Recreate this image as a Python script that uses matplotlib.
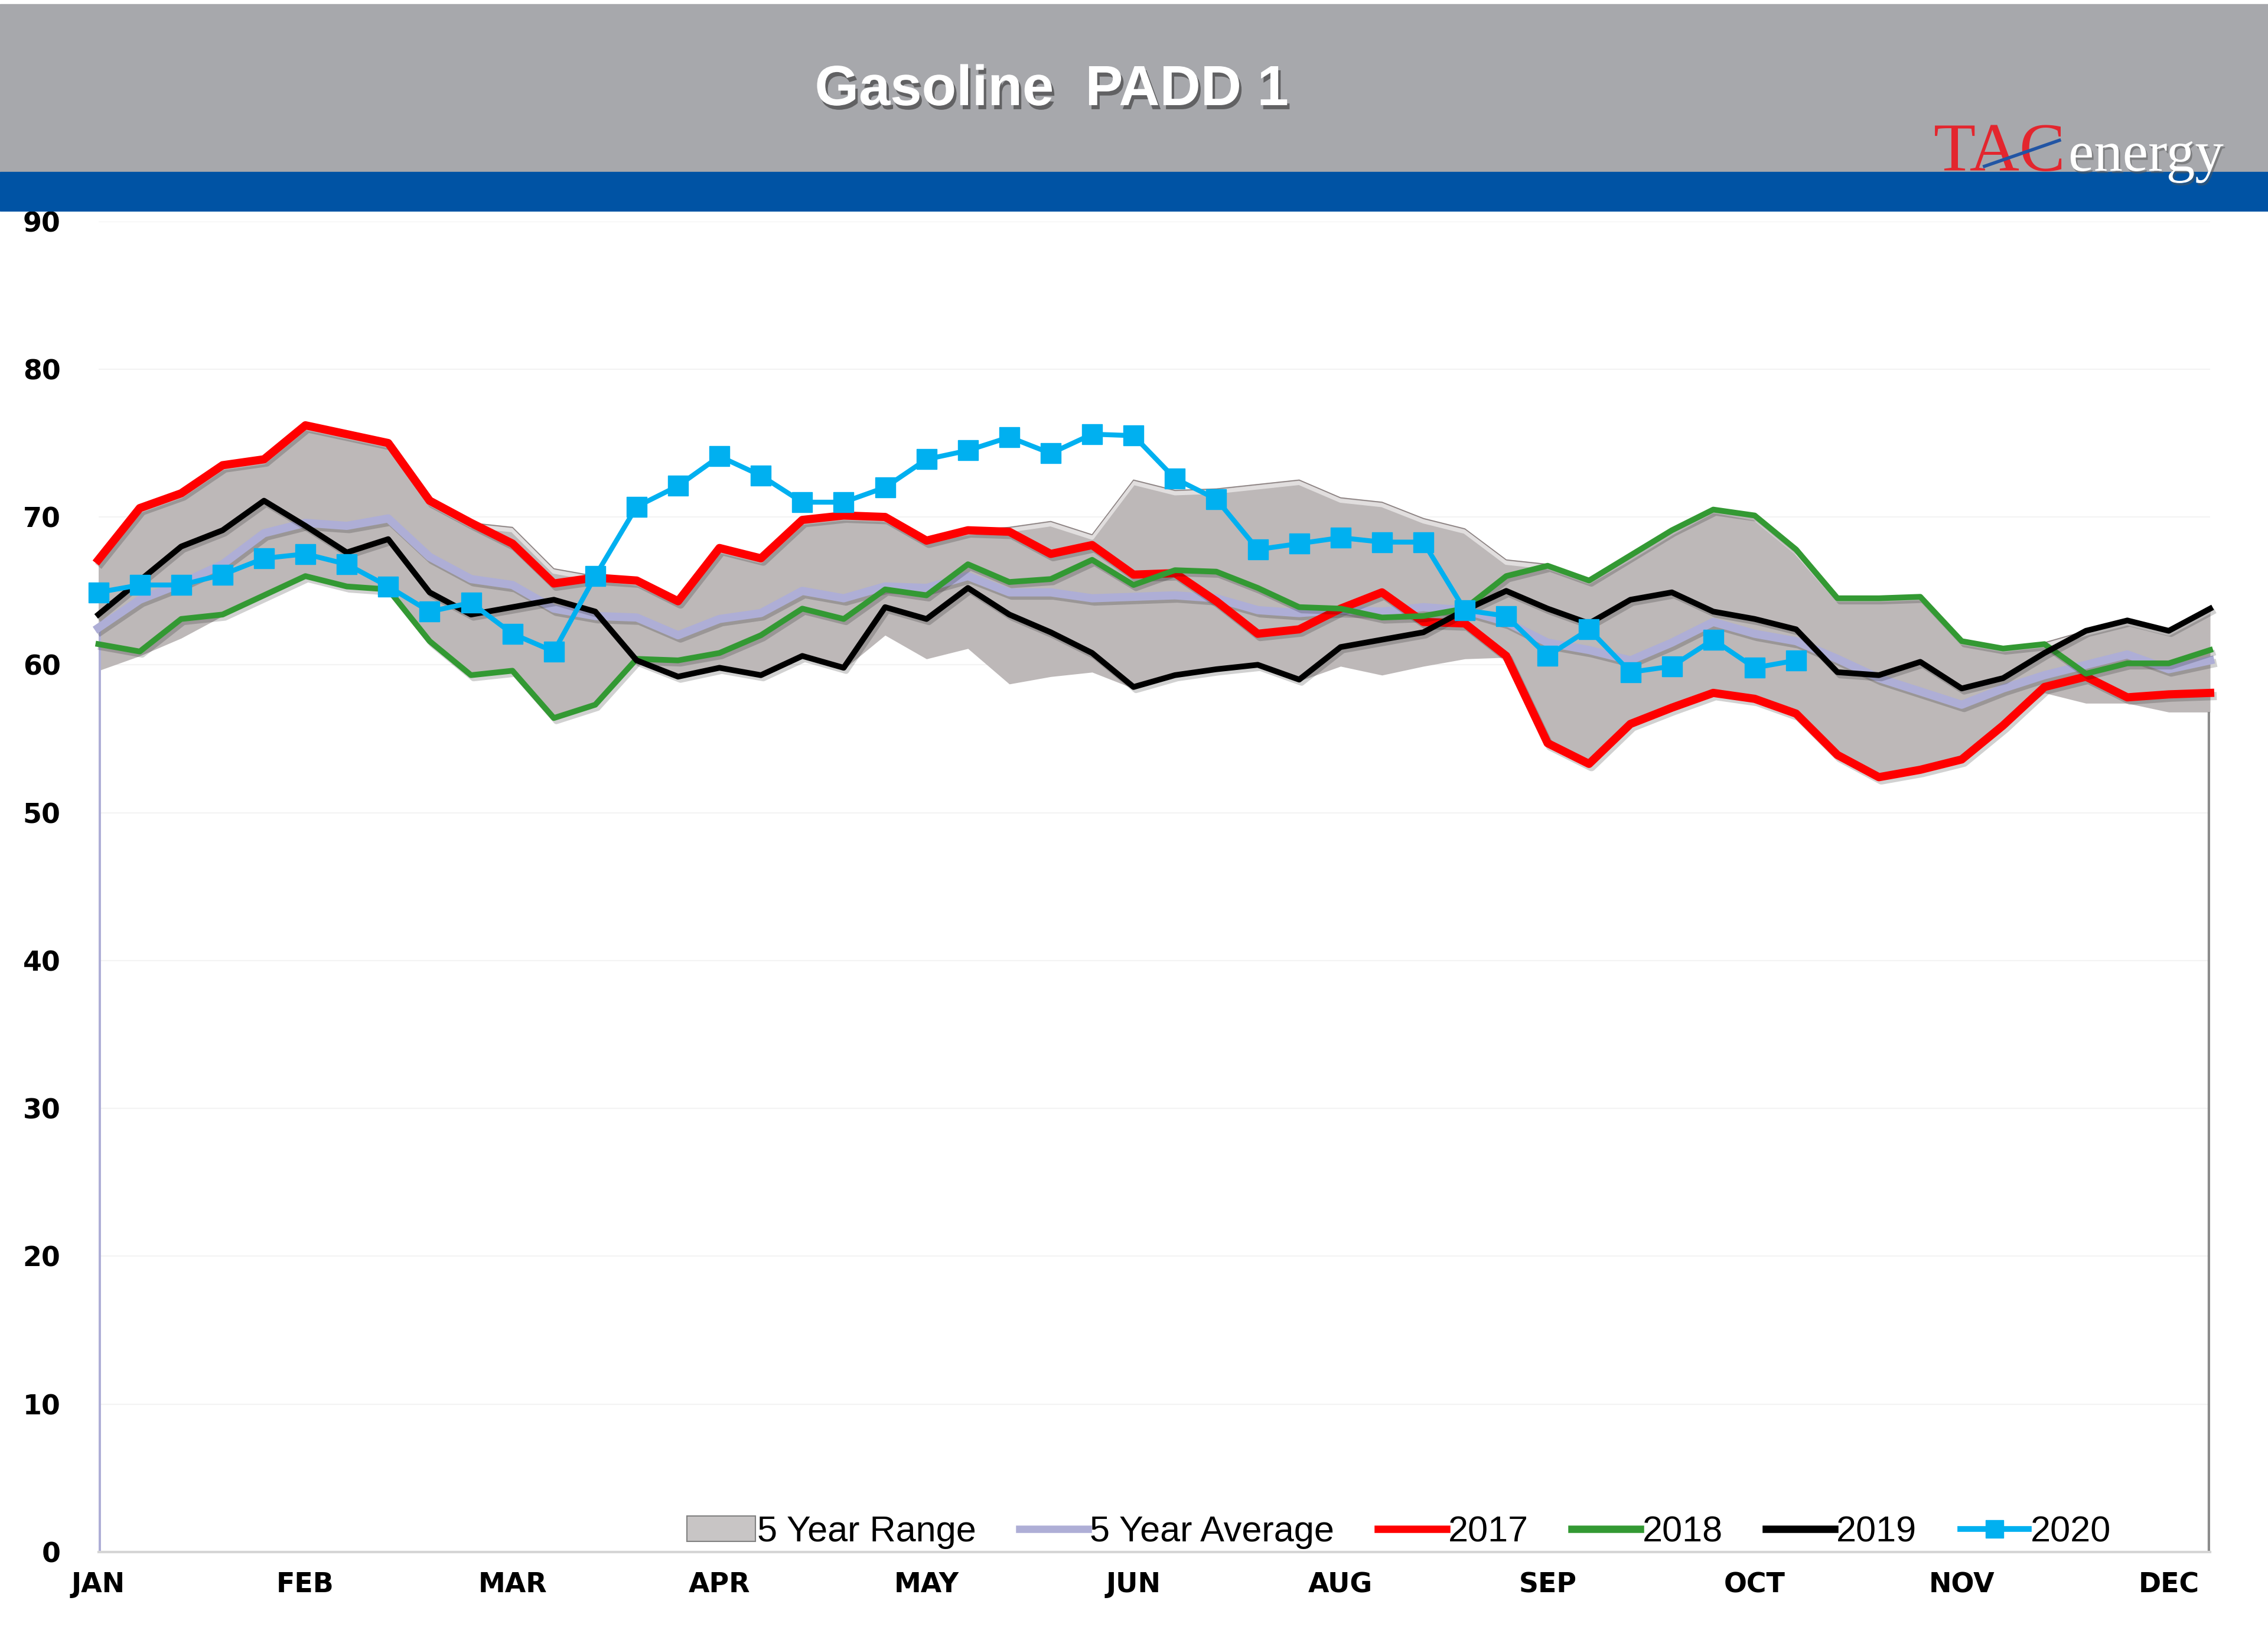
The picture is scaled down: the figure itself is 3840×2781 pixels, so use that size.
import numpy as np
import matplotlib
matplotlib.use('Agg')
import matplotlib.pyplot as plt
import matplotlib.patheffects as pe
from matplotlib.patches import Rectangle, Patch
from matplotlib.lines import Line2D
from matplotlib import transforms

# month labels shown every 5th week
months = ['JAN', 'FEB', 'MAR', 'APR', 'MAY', 'JUN', 'AUG', 'SEP', 'OCT', 'NOV', 'DEC']
month_ticks = [0, 5, 10, 15, 20, 25, 30, 35, 40, 45, 50]

range_hi = [67.1, 70.6, 71.6, 73.5, 73.9, 76.2, 75.6, 75.0, 71.1, 69.6,
            69.3, 66.5, 66.0, 65.7, 64.4, 67.9, 67.2, 69.8, 70.1, 70.0,
            68.6, 69.1, 69.3, 69.7, 68.8, 72.5, 71.8, 71.9, 72.2, 72.5,
            71.3, 71.0, 69.9, 69.2, 67.1, 66.8, 65.8, 67.4, 69.1, 70.6,
            70.1, 67.8, 64.6, 64.6, 64.7, 61.7, 61.2, 61.5, 62.3, 63.0,
            62.3, 63.8]
range_lo = [59.6, 60.6, 61.8, 63.3, 64.6, 65.9, 65.2, 65.0, 61.5, 59.2,
            59.5, 56.3, 57.2, 60.2, 59.1, 59.7, 59.2, 60.5, 59.7, 62.0,
            60.4, 61.1, 58.7, 59.2, 59.5, 58.4, 59.2, 59.6, 59.9, 58.9,
            59.9, 59.3, 59.9, 60.4, 60.5, 54.6, 53.2, 55.9, 57.0, 58.0,
            57.6, 56.6, 53.8, 52.3, 52.8, 53.5, 55.8, 58.1, 57.4, 57.4,
            56.8, 56.8]
avg5 = [62.5, 64.4, 65.5, 66.8, 68.9, 69.6, 69.4, 69.9, 67.3, 65.8,
        65.4, 63.8, 63.3, 63.2, 62.0, 63.1, 63.5, 65.0, 64.5, 65.3,
        65.2, 66.0, 64.9, 64.9, 64.5, 64.6, 64.7, 64.5, 63.7, 63.5,
        63.7, 63.6, 63.9, 63.7, 62.9, 61.5, 61.0, 60.3, 61.5, 62.9,
        62.1, 61.6, 60.4, 59.1, 58.2, 57.3, 58.4, 59.3, 60.0, 60.7,
        59.7, 60.3]
y2017 = [67.1, 70.6, 71.6, 73.5, 73.9, 76.2, 75.6, 75.0, 71.1, 69.6,
         68.2, 65.5, 65.9, 65.7, 64.3, 67.9, 67.2, 69.8, 70.1, 70.0,
         68.4, 69.1, 69.0, 67.5, 68.1, 66.1, 66.2, 64.3, 62.1, 62.4,
         63.8, 64.9, 62.9, 62.8, 60.6, 54.7, 53.3, 56.0, 57.1, 58.1,
         57.7, 56.7, 53.9, 52.4, 52.9, 53.6, 55.9, 58.5, 59.2, 57.8,
         58.0, 58.1]
y2018 = [61.4, 60.9, 63.1, 63.4, 64.7, 66.0, 65.3, 65.1, 61.6, 59.3,
         59.6, 56.4, 57.3, 60.4, 60.3, 60.8, 62.0, 63.8, 63.1, 65.1,
         64.7, 66.8, 65.6, 65.8, 67.1, 65.4, 66.4, 66.3, 65.2, 63.9,
         63.8, 63.2, 63.3, 63.8, 66.0, 66.7, 65.7, 67.4, 69.1, 70.5,
         70.1, 67.8, 64.5, 64.5, 64.6, 61.6, 61.1, 61.4, 59.4, 60.1,
         60.1, 61.0]
y2019 = [63.4, 65.7, 68.0, 69.1, 71.1, 69.4, 67.6, 68.5, 64.9, 63.4,
         63.9, 64.4, 63.6, 60.3, 59.2, 59.8, 59.3, 60.6, 59.8, 63.9,
         63.1, 65.2, 63.4, 62.2, 60.8, 58.5, 59.3, 59.7, 60.0, 59.0,
         61.2, 61.7, 62.2, 63.7, 65.0, 63.8, 62.8, 64.4, 64.9, 63.6,
         63.1, 62.4, 59.5, 59.3, 60.2, 58.4, 59.1, 60.8, 62.3, 63.0,
         62.3, 63.8]
y2020 = [64.9, 65.4, 65.4, 66.1, 67.2, 67.5, 66.8, 65.3, 63.6, 64.2,
         62.1, 60.9, 66.0, 70.7, 72.1, 74.1, 72.8, 71.0, 71.0, 72.0,
         73.9, 74.5, 75.4, 74.3, 75.6, 75.5, 72.6, 71.2, 67.8, 68.2,
         68.6, 68.3, 68.3, 63.7, 63.3, 60.6, 62.4, 59.5, 59.9, 61.7,
         59.8, 60.3]

weeks = np.arange(len(y2017))
weeks_2020 = np.arange(len(y2020))

c_range = '#BDB8B8'
c_avg = '#AEAED6'
c_2017 = '#FF0000'
c_2018 = '#339933'
c_2019 = '#000000'
c_2020 = '#00B0F0'

fig = plt.figure(figsize=(38.4, 27.81), dpi=100)
ax = fig.add_axes([0.04337, 0.05546, 0.93112, 0.80986])

shadow = [pe.SimpleLineShadow(offset=(3, -4), shadow_color='k', alpha=0.18), pe.Normal()]

# 5 year range band
ax.fill_between(weeks, range_lo, range_hi, color=c_range, lw=0, zorder=1)
ax.plot(weeks, range_hi, color='#8A8080', lw=1.2, zorder=1.2)
hi_off = transforms.offset_copy(ax.transData, fig=fig, x=0, y=-5, units='dots')
ax.plot(weeks, range_hi, color='white', lw=5, alpha=0.55, zorder=1.1, transform=hi_off)

# edge lines of the area
ax.vlines(weeks[0], 0, avg5[0], color=c_avg, lw=5, zorder=1.5)
ax.vlines(weeks[-1], 0, range_lo[-1], color='#8C8C8C', lw=6, zorder=1.5)
r_off = transforms.offset_copy(ax.transData, fig=fig, x=7, y=0, units='dots')
ax.vlines(weeks[-1], 0, avg5[-1], color=c_avg, lw=5, zorder=1.6, transform=r_off)

ax.plot(weeks, avg5, color=c_avg, lw=10, zorder=2, clip_on=False, path_effects=shadow)
ax.plot(weeks, y2017, color=c_2017, lw=10, zorder=3, clip_on=False, path_effects=shadow)
ax.plot(weeks, y2018, color=c_2018, lw=7, zorder=4, clip_on=False, path_effects=shadow)
ax.plot(weeks, y2019, color=c_2019, lw=7, zorder=5, clip_on=False, path_effects=shadow)
ax.plot(weeks_2020, y2020, color=c_2020, lw=6, marker='s', markersize=24,
        zorder=6, clip_on=False)

ax.set_xlim(0, 51)
ax.set_ylim(0, 90)
ax.set_yticks(np.arange(0, 91, 10))
ax.set_xticks(month_ticks)
ax.set_xticklabels(months)
ax.tick_params(axis='both', length=0, labelsize=33)
ax.tick_params(axis='y', pad=46)
ax.tick_params(axis='x', pad=24)
for lab in ax.get_xticklabels() + ax.get_yticklabels():
    lab.set_fontweight('bold')

ax.yaxis.grid(True, color='#F3F3F3', lw=1.5)
ax.set_axisbelow(True)
for s in ['top', 'left', 'right']:
    ax.spines[s].set_visible(False)
ax.spines['bottom'].set_color('#D5D5D5')
ax.spines['bottom'].set_linewidth(3)

handles = [Patch(facecolor='#C8C5C5', edgecolor='#808080', lw=1.5),
           Line2D([], [], color=c_avg, lw=9),
           Line2D([], [], color=c_2017, lw=9),
           Line2D([], [], color=c_2018, lw=9),
           Line2D([], [], color=c_2019, lw=9),
           Line2D([], [], color=c_2020, lw=7, marker='s', markersize=22)]
labels = ['5 Year Range', '5 Year Average', '2017', '2018', '2019', '2020']
ax.legend(handles, labels, loc='lower right', bbox_to_anchor=(0.953, 0.002),
          ncol=6, frameon=False, handlelength=1.9, handletextpad=0.05,
          columnspacing=1.2, borderaxespad=0, borderpad=0,
          prop={'family': 'Liberation Sans', 'size': 44})

# header bands
fig.add_artist(Rectangle((0, 0.8952), 1, 0.1023, transform=fig.transFigure,
                         color='#A7A8AC', zorder=5))
fig.add_artist(Rectangle((0, 0.8715), 1, 0.0237, transform=fig.transFigure,
                         color='#0053A4', zorder=5))

fig.text(0.4637, 0.945, 'Gasoline  PADD 1', ha='center', va='center', color='white',
         fontsize=69, fontweight='bold', family='Liberation Sans', zorder=6,
         path_effects=[pe.withSimplePatchShadow(offset=(3, -5), shadow_rgbFace='#444444', alpha=0.7)])

# logo
fig.text(0.8527, 0.8961, 'TAC', ha='left', va='baseline', color='#E3262E',
         fontsize=84, family='Liberation Serif', zorder=6)
fig.text(0.912, 0.8961, 'energy', ha='left', va='baseline', color='white',
         fontsize=70, family='Liberation Serif', zorder=6,
         path_effects=[pe.withSimplePatchShadow(offset=(2, -3), shadow_rgbFace='#555555', alpha=0.5)])
fig.add_artist(Line2D([0.875, 0.908], [0.8988, 0.9146], transform=fig.transFigure,
                      color='#2255A4', lw=4, zorder=7))

fig.savefig('out.png', dpi=100, facecolor='white')
